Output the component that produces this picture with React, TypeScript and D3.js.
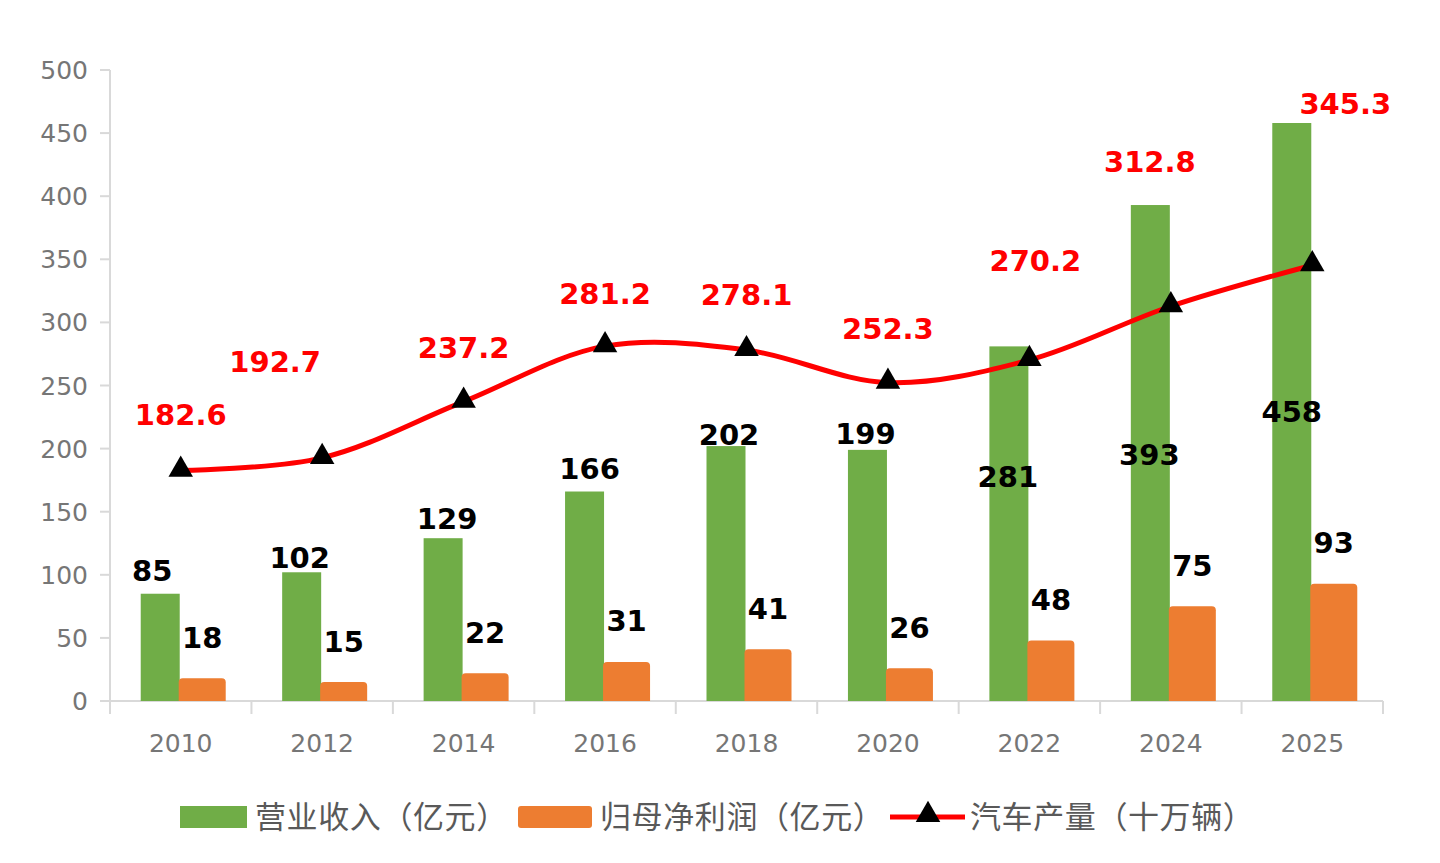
import React from "react";
import * as d3 from "d3";

const categories = ["2010", "2012", "2014", "2016", "2018", "2020", "2022", "2024", "2025"];
const revenue = [85, 102, 129, 166, 202, 199, 281, 393, 458];
const netProfit = [18, 15, 22, 31, 41, 26, 48, 75, 93];
const production = [182.6, 192.7, 237.2, 281.2, 278.1, 252.3, 270.2, 312.8, 345.3];
const yTicks = [0, 50, 100, 150, 200, 250, 300, 350, 400, 450, 500];
const legendLabels = ["营业收入（亿元）", "归母净利润（亿元）", "汽车产量（十万辆）"];

// label offsets (layout only)
const revLabelOffset: [number, number][] = [
  [-8, -23], [-2, -15], [4, -20], [5, -23], [3, -12], [-2, -16], [-1, 130], [-1, 250], [0, 289],
];
const prodLabelOffset: [number, number][] = [
  [0, -56], [-47, -96], [0, -54], [0, -53], [0, -55], [0, -54], [6, -99], [-21, -145], [33, -162],
];

const GREEN = "#70ad47";
const ORANGE = "#ed7d31";
const RED = "#ff0000";
const AXIS = "#d9d9d9";
const TICK_TEXT = "#767676";
const LABEL_FONT = "'DejaVu Sans', Verdana, sans-serif";
const CJK_FONT = "'Noto Sans CJK SC', 'Noto Sans', sans-serif";

export default function App() {
  const W = 1440, H = 863;
  const left = 110, right = 1383, top = 70, bottom = 701;
  const x = d3.scaleBand<string>().domain(categories).range([left, right]).padding(0);
  const y = d3.scaleLinear().domain([0, 500]).range([bottom, top]);
  const cx = (i: number) => (x(categories[i]) as number) + x.bandwidth() / 2;

  const gW = 39, oW = 47;
  const line = d3
    .line<number>()
    .x((_, i) => cx(i))
    .y((d) => y(d))
    .curve(d3.curveCatmullRom.alpha(0.5));

  const tri = d3.symbol().type(d3.symbolTriangle).size(260)() as string;

  const boundaries = d3.range(categories.length + 1).map((i) => left + i * x.bandwidth());

  return (
    <svg width={W} height={H} style={{ position: "absolute", left: 0, top: 0, background: "#fff" }}>
      <rect x={0} y={0} width={W} height={H} fill="#fff" />
      {/* y axis */}
      <line x1={left} x2={left} y1={top} y2={bottom + 12} stroke={AXIS} strokeWidth={2} />
      {yTicks.map((t) => (
        <g key={t}>
          <line x1={left - 10} x2={left} y1={y(t)} y2={y(t)} stroke={AXIS} strokeWidth={2} />
          <text
            x={88}
            y={y(t)}
            dy="0.36em"
            textAnchor="end"
            fontFamily={LABEL_FONT}
            fontSize={25}
            fill={TICK_TEXT}
          >
            {t}
          </text>
        </g>
      ))}
      {/* x axis */}
      <line x1={left} x2={right} y1={bottom} y2={bottom} stroke={AXIS} strokeWidth={2} />
      {boundaries.map((b, i) => (
        <line key={i} x1={b} x2={b} y1={bottom} y2={bottom + 13} stroke={AXIS} strokeWidth={2} />
      ))}
      {categories.map((c, i) => (
        <text
          key={c}
          x={cx(i)}
          y={743}
          dy="0.36em"
          textAnchor="middle"
          fontFamily={LABEL_FONT}
          fontSize={25}
          fill={TICK_TEXT}
        >
          {c}
        </text>
      ))}
      {/* bars */}
      {revenue.map((v, i) => (
        <rect key={"g" + i} x={cx(i) - 40} y={y(v)} width={gW} height={bottom - y(v)} fill={GREEN} />
      ))}
      {netProfit.map((v, i) => (
        <path
          key={"o" + i}
          d={`M${cx(i) - 2},${bottom} V${y(v) + 4} Q${cx(i) - 2},${y(v)} ${cx(i) + 2},${y(v)} H${cx(i) - 2 + oW - 4} Q${cx(i) - 2 + oW},${y(v)} ${cx(i) - 2 + oW},${y(v) + 4} V${bottom} Z`}
          fill={ORANGE}
        />
      ))}
      {/* line */}
      <path d={line(production) as string} fill="none" stroke={RED} strokeWidth={5} />
      {production.map((v, i) => (
        <path key={"t" + i} d={tri} transform={`translate(${cx(i)},${y(v) - 1})`} fill="#000" />
      ))}
      {/* bar labels */}
      {revenue.map((v, i) => (
        <text
          key={"gl" + i}
          x={cx(i) - 20.5 + revLabelOffset[i][0]}
          y={y(v) + revLabelOffset[i][1]}
          dy="0.36em"
          textAnchor="middle"
          fontFamily={LABEL_FONT}
          fontWeight="bold"
          fontSize={29}
          fill="#000"
        >
          {v}
        </text>
      ))}
      {netProfit.map((v, i) => (
        <text
          key={"ol" + i}
          x={cx(i) - 2 + oW / 2}
          y={y(v) - 41}
          dy="0.36em"
          textAnchor="middle"
          fontFamily={LABEL_FONT}
          fontWeight="bold"
          fontSize={29}
          fill="#000"
        >
          {v}
        </text>
      ))}
      {production.map((v, i) => (
        <text
          key={"pl" + i}
          x={cx(i) + prodLabelOffset[i][0]}
          y={y(v) + prodLabelOffset[i][1]}
          dy="0.36em"
          textAnchor="middle"
          fontFamily={LABEL_FONT}
          fontWeight="bold"
          fontSize={29}
          fill={RED}
        >
          {v.toFixed(1)}
        </text>
      ))}
      {/* legend */}
      <g>
        <rect x={180} y={806} width={67} height={22} fill={GREEN} />
        <text x={255} y={817} dy="0.36em" fontFamily={CJK_FONT} fontSize={31} letterSpacing={0.6} fill="#595959">
          {legendLabels[0]}
        </text>
        <rect x={518} y={806} width={74} height={22} rx={3} fill={ORANGE} />
        <text x={600} y={817} dy="0.36em" fontFamily={CJK_FONT} fontSize={31} letterSpacing={0.6} fill="#595959">
          {legendLabels[1]}
        </text>
        <line x1={890} x2={965} y1={817} y2={817} stroke={RED} strokeWidth={5} />
        <path d={tri} transform="translate(928,815)" fill="#000" />
        <text x={970} y={817} dy="0.36em" fontFamily={CJK_FONT} fontSize={31} letterSpacing={0.6} fill="#595959">
          {legendLabels[2]}
        </text>
      </g>
    </svg>
  );
}
